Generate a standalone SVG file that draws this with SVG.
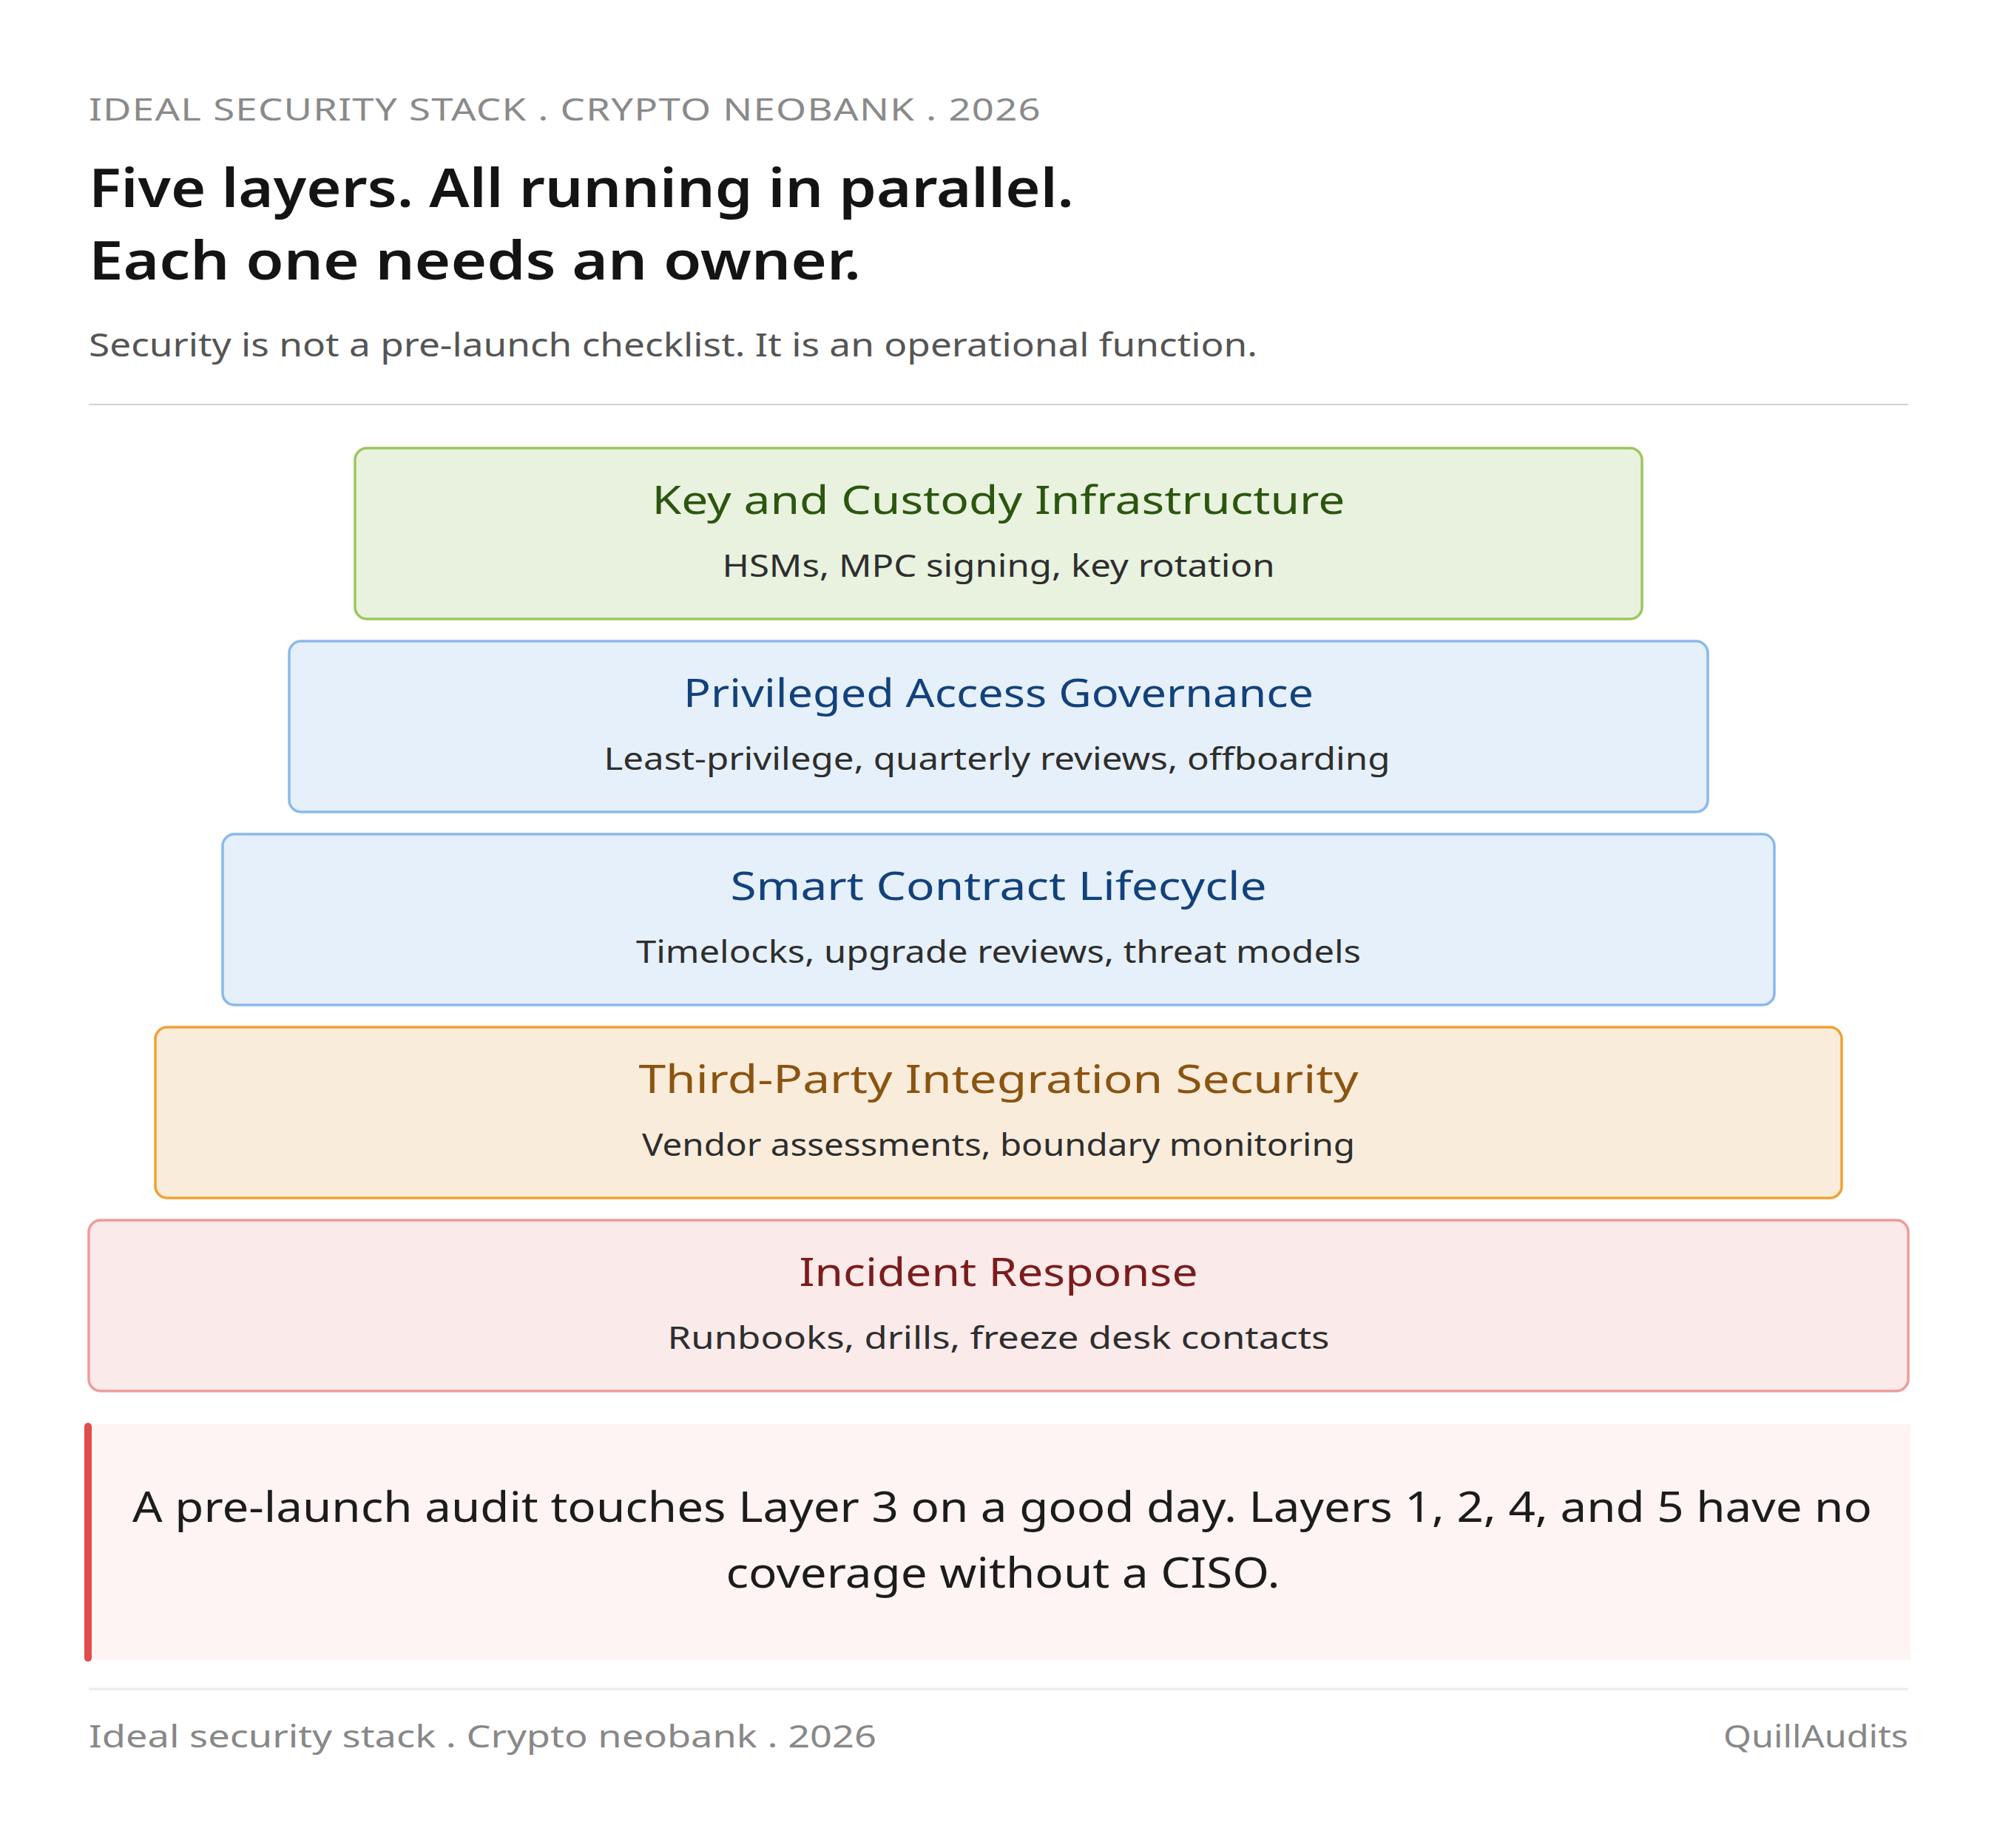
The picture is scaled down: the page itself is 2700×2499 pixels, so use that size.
<svg xmlns="http://www.w3.org/2000/svg" width="2700" height="2499" viewBox="0 0 2700 2499">
<style>
text{font-family:"Noto Sans","Liberation Sans",sans-serif;}
.kicker{font-size:42px;fill:#8a8a8a;letter-spacing:1px;}
.h1{font-size:72px;fill:#141414;font-weight:600;}
.lede{font-size:44px;fill:#555555;}
.box{stroke-width:3.5;}
.t{font-size:52px;text-anchor:middle;}
.s{font-size:42px;fill:#2e2e2e;text-anchor:middle;}
.note{font-size:57px;fill:#1c1c1c;text-anchor:middle;}
.foot{font-size:42px;fill:#888888;}
.green rect{fill:#e8f2df;stroke:#9cc65e;}
.green .t{fill:#2b560f;}
.blue rect{fill:#e6f0fa;stroke:#8ab9ea;}
.blue .t{fill:#12427c;}
.amber rect{fill:#faecdb;stroke:#f0a232;}
.amber .t{fill:#8b5410;}
.red rect{fill:#faeaea;stroke:#ef9a9a;}
.red .t{fill:#7b1c1c;}
</style>
<rect width="2700" height="2499" fill="#ffffff"/>
<g id="header">
<text class="kicker" x="120" y="163" textLength="1288" lengthAdjust="spacingAndGlyphs">IDEAL SECURITY STACK . CRYPTO NEOBANK . 2026</text>
<text class="h1" x="120" y="280" textLength="1332" lengthAdjust="spacingAndGlyphs">Five layers. All running in parallel.</text>
<text class="h1" x="120" y="378" textLength="1044" lengthAdjust="spacingAndGlyphs">Each one needs an owner.</text>
<text class="lede" x="120" y="482" textLength="1580" lengthAdjust="spacingAndGlyphs">Security is not a pre-launch checklist. It is an operational function.</text>
<line x1="120" y1="547" x2="2580" y2="547" stroke="#d2d2d2" stroke-width="2"/>
</g>
<g id="connectors"></g>
<g id="layer1" class="green">
<rect class="box" x="480" y="606" width="1740" height="231" rx="16"/>
<text class="t" x="1350" y="695" textLength="937" lengthAdjust="spacingAndGlyphs">Key and Custody Infrastructure</text>
<text class="s" x="1350" y="780" textLength="747" lengthAdjust="spacingAndGlyphs">HSMs, MPC signing, key rotation</text>
</g>
<g id="layer2" class="blue">
<rect class="box" x="391" y="867" width="1918" height="231" rx="16"/>
<text class="t" x="1350" y="956" textLength="852" lengthAdjust="spacingAndGlyphs">Privileged Access Governance</text>
<text class="s" x="1348" y="1041" textLength="1063" lengthAdjust="spacingAndGlyphs">Least-privilege, quarterly reviews, offboarding</text>
</g>
<g id="layer3" class="blue">
<rect class="box" x="301" y="1128" width="2098" height="231" rx="16"/>
<text class="t" x="1350" y="1217" textLength="725" lengthAdjust="spacingAndGlyphs">Smart Contract Lifecycle</text>
<text class="s" x="1350" y="1302" textLength="980" lengthAdjust="spacingAndGlyphs">Timelocks, upgrade reviews, threat models</text>
</g>
<g id="layer4" class="amber">
<rect class="box" x="210" y="1389" width="2280" height="231" rx="16"/>
<text class="t" x="1350" y="1478" textLength="973" lengthAdjust="spacingAndGlyphs">Third-Party Integration Security</text>
<text class="s" x="1350" y="1563" textLength="964" lengthAdjust="spacingAndGlyphs">Vendor assessments, boundary monitoring</text>
</g>
<g id="layer5" class="red">
<rect class="box" x="120" y="1650" width="2460" height="231" rx="16"/>
<text class="t" x="1350" y="1739" textLength="539" lengthAdjust="spacingAndGlyphs">Incident Response</text>
<text class="s" x="1350" y="1824" textLength="895" lengthAdjust="spacingAndGlyphs">Runbooks, drills, freeze desk contacts</text>
</g>
<g id="callout">
<rect x="120" y="1926" width="2463" height="319" fill="#fef4f3"/>
<rect x="114" y="1924" width="10" height="323" rx="5" fill="#e14c4c"/>
<text class="note" x="1355" y="2058" textLength="2352" lengthAdjust="spacingAndGlyphs">A pre-launch audit touches Layer 3 on a good day. Layers 1, 2, 4, and 5 have no</text>
<text class="note" x="1356" y="2147" textLength="749" lengthAdjust="spacingAndGlyphs">coverage without a CISO.</text>
</g>
<g id="footer">
<line x1="120" y1="2284" x2="2580" y2="2284" stroke="#ececec" stroke-width="3"/>
<text class="foot" x="120" y="2363" textLength="1065" lengthAdjust="spacingAndGlyphs">Ideal security stack . Crypto neobank . 2026</text>
<text class="foot" x="2580" y="2363" text-anchor="end" textLength="250" lengthAdjust="spacingAndGlyphs">QuillAudits</text>
</g>
</svg>
